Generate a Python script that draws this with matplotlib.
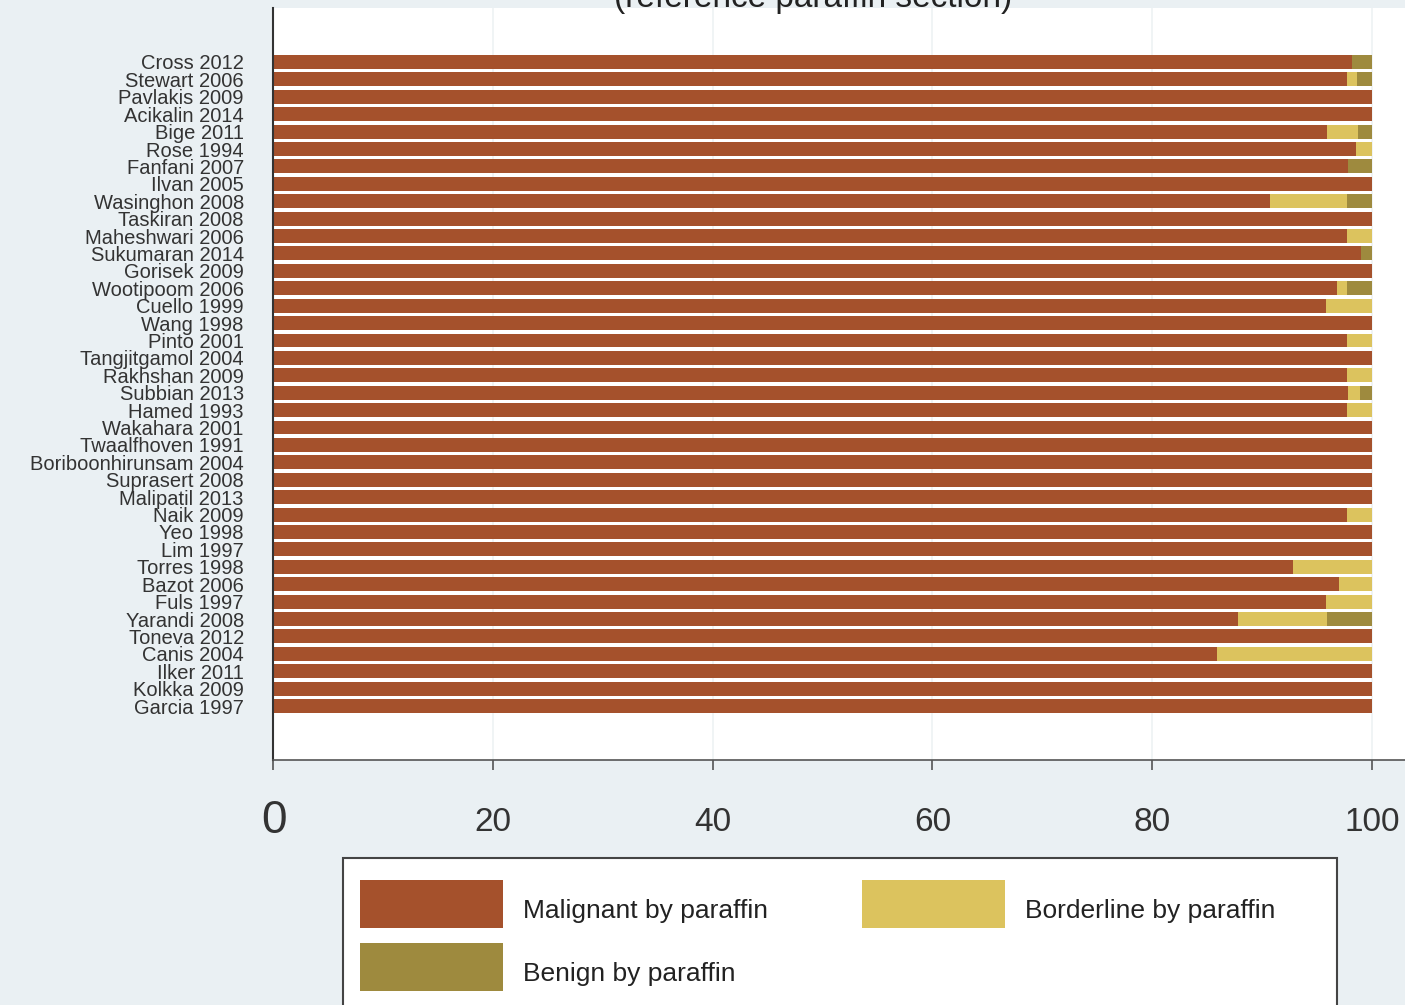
import matplotlib
matplotlib.use("Agg")
import matplotlib.pyplot as plt
from matplotlib.patches import Rectangle
import numpy as np

studies = ["Cross 2012", "Stewart 2006", "Pavlakis 2009", "Acikalin 2014", "Bige 2011",
           "Rose 1994", "Fanfani 2007", "Ilvan 2005", "Wasinghon 2008", "Taskiran 2008",
           "Maheshwari 2006", "Sukumaran 2014", "Gorisek 2009", "Wootipoom 2006", "Cuello 1999",
           "Wang 1998", "Pinto 2001", "Tangjitgamol 2004", "Rakhshan 2009", "Subbian 2013",
           "Hamed 1993", "Wakahara 2001", "Twaalfhoven 1991", "Boriboonhirunsam 2004",
           "Suprasert 2008", "Malipatil 2013", "Naik 2009", "Yeo 1998", "Lim 1997",
           "Torres 1998", "Bazot 2006", "Fuls 1997", "Yarandi 2008", "Toneva 2012",
           "Canis 2004", "Ilker 2011", "Kolkka 2009", "Garcia 1997"]

malignant = [98.2, 97.7, 100, 100, 95.9, 98.5, 97.8, 100, 90.7, 100,
             97.7, 99.0, 100, 96.8, 95.8, 100, 97.7, 100, 97.7, 97.8,
             97.7, 100, 100, 100, 100, 100, 97.7, 100, 100,
             92.8, 97.0, 95.8, 87.8, 100, 85.9, 100, 100, 100]
borderline = [0, 0.9, 0, 0, 2.8, 1.5, 0, 0, 7.0, 0,
              2.3, 0, 0, 0.9, 4.2, 0, 2.3, 0, 2.3, 1.1,
              2.3, 0, 0, 0, 0, 0, 2.3, 0, 0,
              7.2, 3.0, 4.2, 8.1, 0, 14.1, 0, 0, 0]
benign = [1.8, 1.4, 0, 0, 1.3, 0, 2.2, 0, 2.3, 0,
          0, 1.0, 0, 2.3, 0, 0, 0, 0, 0, 1.1,
          0, 0, 0, 0, 0, 0, 0, 0, 0,
          0, 0, 0, 4.1, 0, 0, 0, 0, 0]

series_names = ["Malignant by paraffin", "Borderline by paraffin", "Benign by paraffin"]
colors = ["#a5512c", "#dcc35e", "#9e8a3e"]
xticks = [0, 20, 40, 60, 80, 100]

W, H = 1405, 1005
fig = plt.figure(figsize=(W / 100, H / 100), dpi=100, facecolor="#eaf0f3")

def fx(px):
    return px / W

def fy(py):
    return 1 - py / H

ax = fig.add_axes([fx(273), fy(760), fx(W - 273), (760 - 8) / H])
ax.set_facecolor("white")

y = np.arange(len(studies))
mal = np.array(malignant)
bor = np.array(borderline)
ben = np.array(benign)
ax.barh(y, mal, height=0.8, color=colors[0], zorder=2)
ax.barh(y, bor, left=mal, height=0.8, color=colors[1], zorder=2)
ax.barh(y, ben, left=mal + bor, height=0.8, color=colors[2], zorder=2)

ax.set_xlim(0, 103)
ax.set_ylim(40.1, -3.1)

ax.set_yticks(y)
ax.set_yticklabels(studies, family="Liberation Sans", fontsize=14.5, color="#333333")
ax.tick_params(axis="y", length=0, pad=21)

# the zero label is printed larger, so it gets its own text
ax.set_xticks(xticks)
ax.set_xticklabels([""] + [str(t) for t in xticks[1:]], family="Liberation Sans",
                   fontsize=24, color="#333333")
ax.tick_params(axis="x", length=7, width=1.2, color="#555555", pad=27)
fig.text(fx(274), fy(799), str(xticks[0]), ha="center", va="top", family="Liberation Sans",
         fontsize=33, color="#333333")
ax.grid(axis="x", color="#eef2f4", linewidth=1.2, zorder=0)

for side in ["top", "right"]:
    ax.spines[side].set_visible(False)
ax.spines["left"].set_color("#333333")
ax.spines["left"].set_linewidth(1.5)
ax.spines["bottom"].set_color("#555555")
ax.spines["bottom"].set_linewidth(1.2)

# title sits mostly above the canvas, only its lower edge shows
fig.text(fx(813), fy(7), "(reference paraffin section)", ha="center", va="baseline",
         family="Liberation Sans", fontsize=24, color="#222222")

# legend box drawn by hand so it can run off the bottom edge
fig.patches.append(Rectangle((fx(343), fy(1030)), fx(1337 - 343), (1030 - 858) / H,
                             transform=fig.transFigure, facecolor="white",
                             edgecolor="#444444", linewidth=1.5))
entries = [(360, 880, 523, 0), (862, 880, 1025, 1), (360, 943, 523, 2)]
for px, py, tx, i in entries:
    fig.patches.append(Rectangle((fx(px), fy(py + 48)), fx(143), 48 / H,
                                 transform=fig.transFigure, facecolor=colors[i],
                                 edgecolor="none"))
    fig.text(fx(tx), fy(py + 31), series_names[i], ha="left", va="center",
             family="Liberation Sans", fontsize=19, color="#222222")

fig.savefig("out.png", dpi=100, facecolor=fig.get_facecolor())
